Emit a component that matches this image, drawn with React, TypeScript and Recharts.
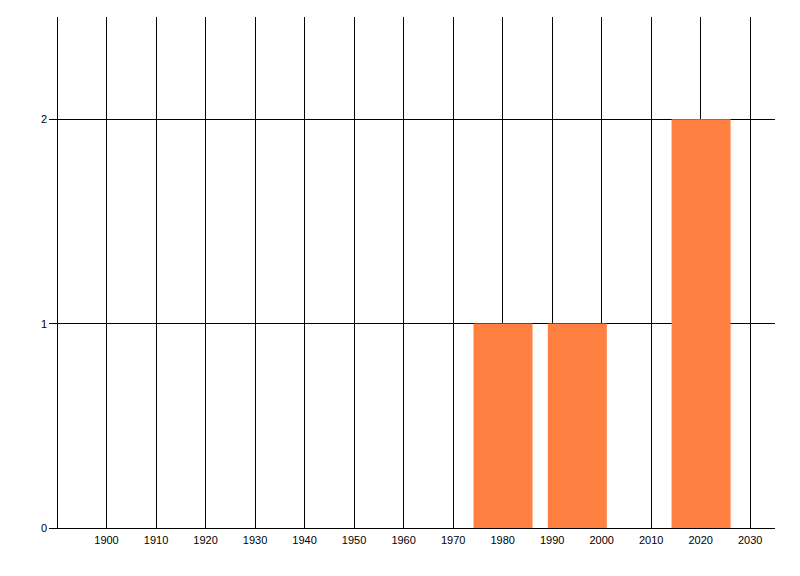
import React from 'react';
import { BarChart, Bar, XAxis, YAxis, CartesianGrid } from 'recharts';

const years = [1980, 1995, 2020];
const counts = [1, 1, 2];
const yearTicks = [1900, 1910, 1920, 1930, 1940, 1950, 1960, 1970, 1980, 1990, 2000, 2010, 2020, 2030];
const countTicks = [0, 1, 2];

const data = years.map((year, i) => ({ year, count: counts[i] }));

const tickStyle = { fill: '#000', fontSize: 11, fontFamily: '"Liberation Sans", Arial, sans-serif' };

export default function App() {
  return (
    <div style={{ width: 784, height: 560 }}>
      <BarChart
        width={784}
        height={560}
        data={data}
        margin={{ top: 9, right: 17, left: 0, bottom: 10 }}
      >
        <CartesianGrid stroke="#000" strokeWidth={1} shapeRendering="crispEdges" syncWithTicks />
        <XAxis
          dataKey="year"
          type="number"
          domain={[1890, 2035]}
          ticks={yearTicks}
          allowDataOverflow
          height={30}
          tick={tickStyle}
          tickLine={false}
          axisLine={{ stroke: '#000', shapeRendering: 'crispEdges' }}
        />
        <YAxis
          type="number"
          domain={[0, 2.5]}
          ticks={countTicks}
          width={49}
          tickSize={8}
          tick={tickStyle}
          tickLine={{ stroke: '#000', shapeRendering: 'crispEdges' }}
          axisLine={{ stroke: '#000', shapeRendering: 'crispEdges' }}
        />
        <Bar dataKey="count" fill="#FF8040" barSize={59} isAnimationActive={false} />
      </BarChart>
    </div>
  );
}
